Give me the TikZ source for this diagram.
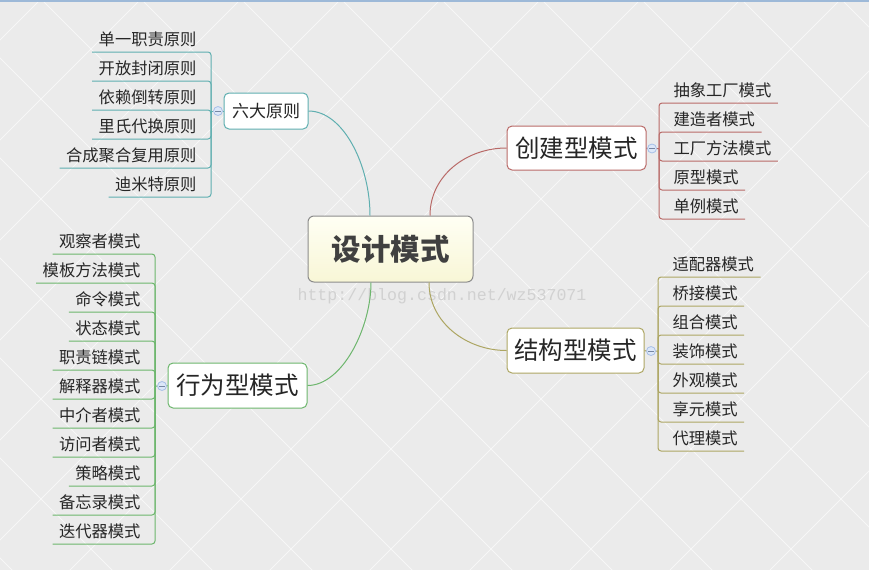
\documentclass[tikz,border=0pt]{standalone}
\usepackage{fontspec}
\setmainfont{Noto Sans CJK SC}
\newfontfamily\wmfont{Liberation Mono}
\usetikzlibrary{positioning}
\definecolor{ink}{HTML}{262626}
\definecolor{rootline}{HTML}{8C8C8C}
\definecolor{roottop}{HTML}{FFFFF4}
\definecolor{rootbot}{HTML}{F8F6D6}
\definecolor{tealc}{HTML}{5FAFB0}
\definecolor{redc}{HTML}{B96A68}
\definecolor{olivec}{HTML}{ADA663}
\definecolor{greenc}{HTML}{6DB66D}
\definecolor{foldline}{HTML}{A7C0E8}
\definecolor{foldfill}{HTML}{DCE7F8}
\definecolor{bgc}{HTML}{EBEBEB}
\definecolor{topc}{HTML}{9DB9D8}

\begin{document}
\begin{tikzpicture}[x=1pt,y=-1pt,line width=1pt,
 topic/.style={draw,rounded corners=5pt,fill=white,inner sep=0pt,text=ink,font=\fontsize{24.5}{28}\selectfont},
 leaf/.style={inner xsep=6pt,inner ysep=6pt,text height=14pt,text depth=0.5pt,text=ink,font=\fontsize{16.3}{19}\selectfont},
 fold/.style={circle,draw=foldline,fill=foldfill,minimum size=9pt,inner sep=0pt,line width=0.8pt},
 foldbar/.style={foldline!70!black,line width=0.8pt},
 bgline/.style={white,line width=0.8pt,opacity=0.6}]
\useasboundingbox (0,0) rectangle (869,570);
\fill[bgc] (0,0) rectangle (869,570);
\begin{scope}
\clip (0,0) rectangle (869,570);
\foreach \k in {0,...,14} \draw[bgline] (40+100*\k,0) -- ++(-570,570);
\foreach \k in {-6,...,8} \draw[bgline] (42+100*\k,0) -- ++(570,570);
\end{scope}
\draw[topc,line width=1.5pt] (0,0.75) -- (869,0.75);
\node[text=black!18,font=\wmfont\fontsize{16.6}{18}\selectfont] (mark) at (442,296) {http://blog.csdn.net/wz537071};

\node[draw=rootline,rounded corners=6pt,top color=roottop,bottom color=rootbot,minimum width=165pt,minimum height=66pt,
 text=black!75,font=\fontsize{29.5}{34}\selectfont\bfseries] (root) at (390.5,249) {设计模式};
\node[topic,draw=tealc,minimum width=84pt,minimum height=36pt,font=\fontsize{17}{20}\selectfont] (principle) at (266,111) {六大原则};
\node[topic,draw=redc,minimum width=139pt,minimum height=44pt] (creational) at (576.5,148) {创建型模式};
\node[topic,draw=olivec,minimum width=137pt,minimum height=45pt] (structural) at (575.5,350.5) {结构型模式};
\node[topic,draw=greenc,minimum width=139pt,minimum height=45pt] (behavioral) at (237.5,385.5) {行为型模式};

\draw[tealc] (principle.east) .. controls +(35,0) and +(0,-50) .. ([xshift=-20.5pt]root.north);
\draw[redc] ([xshift=39.5pt]root.north) .. controls +(0,-40) and +(-40,0) .. (creational.west);
\draw[olivec] ([xshift=38.5pt]root.south) .. controls +(0,40) and +(-40,0) .. (structural.west);
\draw[greenc] ([xshift=-19.5pt]root.south) .. controls +(0,45) and +(35,0) .. (behavioral.east);

\node[fold] (pfold) at (218,111) {};
\node[fold] (cfold) at (652,148.5) {};
\node[fold] (sfold) at (651,351) {};
\node[fold] (bfold) at (162,386) {};
\coordinate (pjoin) at (211,111);
\coordinate (cjoin) at (659,148.5);
\coordinate (sjoin) at (658,351);
\coordinate (bjoin) at (155,386);
\draw[tealc] (principle.west) -- (pfold.east) (pfold.west) -- (pjoin);
\draw[redc] (creational.east) -- (cfold.west) (cfold.east) -- (cjoin);
\draw[olivec] (structural.east) -- (sfold.west) (sfold.east) -- (sjoin);
\draw[greenc] (behavioral.west) -- (bfold.east) (bfold.west) -- (bjoin);
\foreach \f in {pfold,cfold,sfold,bfold} \draw[foldbar] ([xshift=2pt]\f.west) -- ([xshift=-2pt]\f.east);

\foreach \t [count=\i] in {单一职责原则,开放封闭原则,依赖倒转原则,里氏代换原则,合成聚合复用原则,迪米特原则}{
 \node[leaf,anchor=south east] (p\i) at (203,{23+29*\i}) {\t};
 \draw[tealc,rounded corners=3pt] (pjoin) |- (p\i.south west);}
\foreach \t [count=\i] in {抽象工厂模式,建造者模式,工厂方法模式,原型模式,单例模式}{
 \node[leaf,anchor=south west] (c\i) at (667,{74+29*\i}) {\t};
 \draw[redc,rounded corners=3pt] (cjoin) |- (c\i.south east);}
\foreach \t [count=\i] in {适配器模式,桥接模式,组合模式,装饰模式,外观模式,享元模式,代理模式}{
 \node[leaf,anchor=south west] (s\i) at (666,{248+29*\i}) {\t};
 \draw[olivec,rounded corners=3pt] (sjoin) |- (s\i.south east);}
\foreach \t [count=\i] in {观察者模式,模板方法模式,命令模式,状态模式,职责链模式,解释器模式,中介者模式,访问者模式,策略模式,备忘录模式,迭代器模式}{
 \node[leaf,anchor=south east] (b\i) at (147,{225+29*\i}) {\t};
 \draw[greenc,rounded corners=3pt] (bjoin) |- (b\i.south west);}
\end{tikzpicture}
\end{document}
